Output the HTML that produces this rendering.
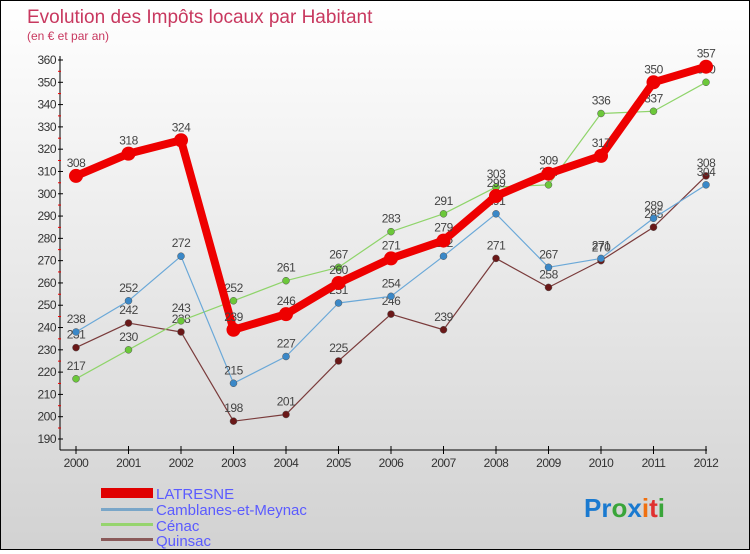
<!DOCTYPE html>
<html><head><meta charset="utf-8"><style>
body{margin:0;width:750px;height:550px;overflow:hidden;font-family:"Liberation Sans",sans-serif}
#wrap{position:relative;width:748px;height:548px;border:1px solid #000;background:linear-gradient(#ffffff,#d2d2d2)}
svg text{font-family:"Liberation Sans",sans-serif}
</style></head><body>
<div id="wrap">
<svg id="chart" width="748" height="548">
<text x="26" y="22" font-size="19" fill="#c8385f">Evolution des Impôts locaux par Habitant</text>
<text x="26" y="39" font-size="12" fill="#c8385f">(en € et par an)</text>
<g id="axes"></g><g id="series"></g>
<g>
<rect x="100" y="487" width="52" height="10" fill="#e00000"/>
<text x="155" y="498" font-size="15" fill="#5b5bff">LATRESNE</text>
<rect x="100" y="507" width="52" height="3" fill="#7aa6c8"/>
<text x="155" y="514" font-size="15" fill="#5b5bff">Camblanes-et-Meynac</text>
<rect x="100" y="522" width="52" height="3" fill="#96d46e"/>
<text x="155" y="530" font-size="15" fill="#5b5bff">Cénac</text>
<rect x="100" y="537" width="52" height="3" fill="#8a5a5a"/>
<text x="155" y="545" font-size="15" fill="#5b5bff">Quinsac</text>
</g>
<text x="583" y="516" font-size="26" font-weight="bold"><tspan fill="#1a7ad0">Pr</tspan><tspan fill="#3aa53a">o</tspan><tspan fill="#1a7ad0">x</tspan><tspan fill="#f07010">i</tspan><tspan fill="#e03030">t</tspan><tspan fill="#3aa53a">i</tspan></text>
</svg>
</div>
<script>
const years=[2000,2001,2002,2003,2004,2005,2006,2007,2008,2009,2010,2011,2012];
const latresne=[308,318,324,239,246,260,271,279,299,309,317,350,357];
const camblanes=[238,252,272,215,227,251,254,272,291,267,271,289,304];
const cenac=[217,230,243,252,261,267,283,291,303,304,336,337,350];
const quinsac=[231,242,238,198,201,225,246,239,271,258,270,285,308];
const yTicks=[190,200,210,220,230,240,250,260,270,280,290,300,310,320,330,340,350,360];
const NS="http://www.w3.org/2000/svg";
function xs(i){return 75+i*52.5;}
function ys(v){return 59+(360-v)*(379/170);}
function mk(tag,attrs,parent){const e=document.createElementNS(NS,tag);for(const k in attrs)e.setAttribute(k,attrs[k]);parent.appendChild(e);return e;}
const axes=document.getElementById('axes');
let a=mk('line',{x1:59,y1:55,x2:59,y2:449,stroke:'#000'},axes);

a=mk('line',{x1:59,y1:449,x2:706,y2:449,stroke:'#000'},axes);

yTicks.forEach(v=>{const y=ys(v);
 mk('line',{x1:57,y1:y,x2:62,y2:y,stroke:'#000'},axes);
 if(v<360) mk('line',{x1:57,y1:y-11,x2:60,y2:y-11,stroke:'#e00'},axes);
 const t=mk('text',{x:55,y:y+4,'font-size':12,fill:'#333','text-anchor':'end','letter-spacing':'-0.5'},axes);t.textContent=v;
 });
years.forEach((yr,i)=>{const x=xs(i);
 mk('line',{x1:x,y1:445,x2:x,y2:453,stroke:'#000'},axes);
 const t=mk('text',{x:x,y:466,'font-size':12,fill:'#333','text-anchor':'middle','letter-spacing':'-0.5'},axes);t.textContent=yr;
 });
const sg=document.getElementById('series');
function draw(name,vals,color,dot,w,r){
 const g=mk('g',{},sg);
 
 const l=mk('polyline',{points:vals.map((v,i)=>xs(i)+','+ys(v)).join(' '),fill:'none',stroke:color,'stroke-width':w,'stroke-linejoin':'round'},g);
 
 vals.forEach((v,i)=>{const c=mk('circle',{cx:xs(i),cy:ys(v),r:r,fill:dot,stroke:w>3?'none':'#555','stroke-width':0.5},g);
  
  const t=mk('text',{x:xs(i),y:ys(v)-9,'font-size':12,fill:'#444','text-anchor':'middle','letter-spacing':'-0.5'},g);t.textContent=v;
  });
}
draw('quinsac',quinsac,'#7a3b3b','#6a1818',1.2,3.5);
draw('cenac',cenac,'#8fd46a','#6cc83a',1.2,3.5);
draw('camblanes',camblanes,'#6aa8d8','#3a88c8',1.2,3.5);
draw('latresne',latresne,'#ee0000','#ee0000',8,7);
</script>
</body></html>
